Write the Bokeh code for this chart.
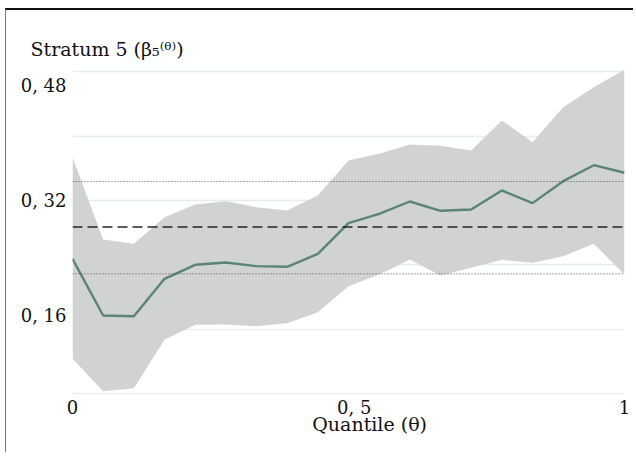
from bokeh.plotting import figure
from bokeh.models import ColumnDataSource, FixedTicker, Span, Title, Range1d
from bokeh.embed import file_html
from bokeh.resources import INLINE

# ---- data ----
quantiles = [i / 18 for i in range(19)]
estimate = [0.2386, 0.1594, 0.1584, 0.2106, 0.2302, 0.2334, 0.2283, 0.2274, 0.2455,
            0.2883, 0.3014, 0.3186, 0.3056, 0.3074, 0.3340, 0.3163, 0.3470, 0.3693, 0.3587]
upper = [0.3805, 0.2655, 0.2595, 0.2967, 0.3144, 0.3190, 0.3107, 0.3060, 0.3270,
         0.3759, 0.3852, 0.3982, 0.3964, 0.3898, 0.4317, 0.4015, 0.4503, 0.4782, 0.5025]
lower = [0.0989, 0.0537, 0.0579, 0.1254, 0.1464, 0.1468, 0.1445, 0.1486, 0.1640,
         0.2003, 0.2166, 0.2376, 0.2153, 0.2260, 0.2371, 0.2330, 0.2422, 0.2595, 0.2166]
ols_estimate = 0.283
ols_lower = 0.2176
ols_upper = 0.3465

x_ticks = [0, 0.5, 1]
x_tick_labels = {0: "0", 0.5: "\u00a0\u00a00, 5", 1: "1"}
y_ticks = [0.16, 0.32, 0.48]
y_tick_labels = {0.16: "0, 16", 0.32: "0, 32", 0.48: "0, 48"}
grid_levels = [0.05, 0.14, 0.23, 0.32, 0.41, 0.50]

title_text = "Stratum 5 (\u03b2\u2085\u207d\u1dbf\u207e)"
x_label = "\u00a0" * 7 + "Quantile (\u03b8)"

FONT = "DejaVu Serif"
INK = "#111111"

src = ColumnDataSource(dict(q=quantiles, est=estimate, lo=lower, hi=upper))

y0, y1 = 0.04626, 0.50994
p = figure(width=628, height=444, output_backend="svg", toolbar_location=None,
           x_range=Range1d(0, 1), y_range=Range1d(y0, y1),
           min_border_left=66, min_border_right=10, min_border_top=54, min_border_bottom=58)

p.varea(x="q", y1="lo", y2="hi", source=src, fill_color="#d1d2d2", fill_alpha=1.0)

p.add_layout(Span(location=ols_upper, dimension="width", line_color="#555049",
                  line_width=1, line_dash="1 2"))
p.add_layout(Span(location=ols_lower, dimension="width", line_color="#555049",
                  line_width=1, line_dash="1 2"))
p.add_layout(Span(location=ols_estimate, dimension="width", line_color="#262626",
                  line_width=1.4, line_dash="10 5"))

p.line(x="q", y="est", source=src, line_color="#5a8474", line_width=2.4)

p.outline_line_color = None
p.background_fill_color = "white"
p.border_fill_color = "white"

p.xgrid.visible = False
p.ygrid.ticker = FixedTicker(ticks=grid_levels)
p.ygrid.grid_line_color = "#e4eeec"
p.ygrid.grid_line_width = 1.5

for ax in (p.xaxis[0], p.yaxis[0]):
    ax.axis_line_color = None
    ax.major_tick_line_color = None
    ax.minor_tick_line_color = None
    ax.major_tick_out = 0
    ax.major_tick_in = 0
    ax.major_label_text_font = FONT
    ax.major_label_text_font_size = "18px"
    ax.major_label_text_color = INK

p.xaxis.ticker = FixedTicker(ticks=x_ticks)
p.xaxis.major_label_overrides = x_tick_labels
p.xaxis.major_label_standoff = 0
p.xaxis.axis_label = x_label
p.xaxis.axis_label_standoff = -8
p.xaxis.axis_label_text_font = FONT
p.xaxis.axis_label_text_font_size = "19px"
p.xaxis.axis_label_text_font_style = "normal"
p.xaxis.axis_label_text_color = INK

p.yaxis.ticker = FixedTicker(ticks=y_ticks)
p.yaxis.major_label_overrides = y_tick_labels
p.yaxis.major_label_standoff = 6

p.title = Title(text=title_text, align="left", offset=-42, text_font=FONT,
                text_font_size="19px", text_font_style="normal", text_color=INK,
                standoff=10)

p.margin = (8, 0, 0, 5)
p.styles = {"border-top": "2px solid #111111", "border-left": "1px solid #777777"}

open("out.html", "w").write(file_html(p, INLINE))
